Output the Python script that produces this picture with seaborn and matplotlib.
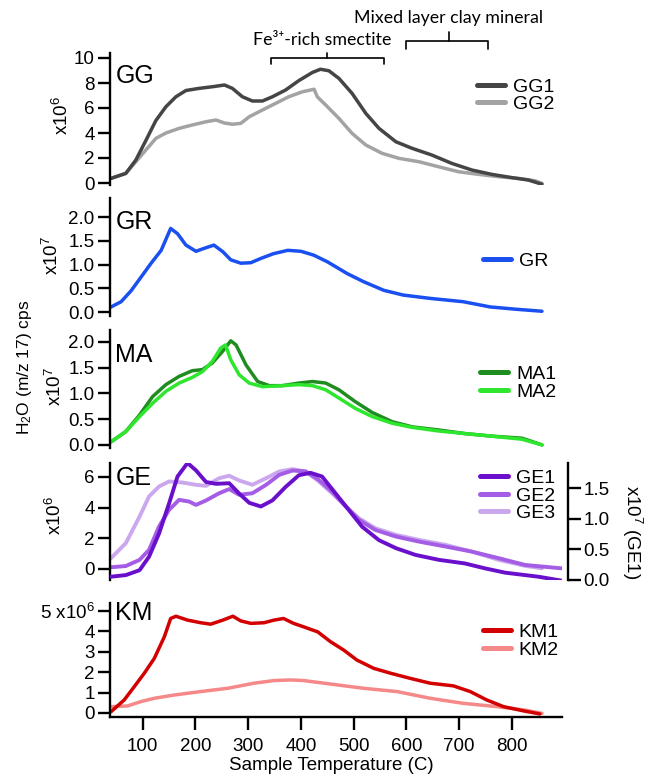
import numpy as np
import pandas as pd
import matplotlib
matplotlib.use("Agg")
import matplotlib.pyplot as plt
import matplotlib.transforms as mtransforms
from matplotlib.lines import Line2D
import seaborn as sns

# ---------------- data ----------------
gg1_t = [40, 68, 87, 106, 125, 144, 163, 182, 207, 232, 255, 270, 289, 308, 327, 346, 371, 396, 422, 437, 453, 472, 497, 523, 548, 580, 611, 648, 686, 724, 762, 800, 831, 857]
gg1_v = [0.37, 0.77, 1.84, 3.4, 5.0, 6.1, 6.9, 7.4, 7.57, 7.7, 7.84, 7.57, 6.9, 6.56, 6.56, 6.9, 7.44, 8.19, 8.85, 9.1, 8.98, 8.37, 7.17, 5.57, 4.37, 3.3, 2.77, 2.24, 1.57, 1.04, 0.69, 0.43, 0.24, -0.1]
gg2_t = [40, 68, 87, 106, 125, 144, 169, 194, 220, 239, 255, 270, 286, 302, 327, 352, 377, 403, 425, 431, 447, 472, 497, 523, 554, 586, 624, 661, 699, 737, 775, 812, 844, 857]
gg2_v = [0.37, 0.77, 1.7, 2.64, 3.57, 4.0, 4.37, 4.64, 4.9, 5.04, 4.8, 4.7, 4.77, 5.3, 5.84, 6.37, 6.9, 7.3, 7.5, 6.9, 6.24, 5.17, 3.97, 3.04, 2.37, 1.97, 1.7, 1.3, 0.9, 0.69, 0.5, 0.37, 0.18, -0.03]

gr_t = [40, 59, 78, 97, 116, 135, 153, 166, 182, 201, 216, 235, 252, 267, 286, 305, 324, 348, 375, 400, 424, 450, 488, 519, 557, 594, 645, 708, 759, 810, 857]
gr_v = [0.11, 0.22, 0.45, 0.74, 1.03, 1.3, 1.76, 1.65, 1.41, 1.28, 1.34, 1.41, 1.27, 1.1, 1.03, 1.04, 1.13, 1.23, 1.3, 1.28, 1.2, 1.06, 0.81, 0.64, 0.46, 0.36, 0.29, 0.22, 0.11, 0.06, 0.02]

ma1_t = [40, 68, 94, 119, 144, 169, 194, 213, 232, 251, 267, 277, 296, 318, 340, 365, 396, 422, 447, 472, 503, 535, 573, 611, 661, 711, 762, 819, 831, 857]
ma1_v = [0.06, 0.26, 0.58, 0.94, 1.17, 1.33, 1.44, 1.46, 1.59, 1.81, 2.02, 1.94, 1.55, 1.23, 1.15, 1.15, 1.2, 1.23, 1.2, 1.07, 0.84, 0.63, 0.45, 0.35, 0.29, 0.22, 0.17, 0.13, 0.09, 0.0]
ma2_t = [40, 68, 94, 119, 144, 169, 194, 213, 232, 248, 257, 267, 283, 302, 327, 365, 396, 422, 447, 472, 503, 535, 573, 611, 661, 711, 762, 819, 857]
ma2_v = [0.06, 0.26, 0.55, 0.81, 1.04, 1.2, 1.31, 1.42, 1.62, 1.88, 1.94, 1.65, 1.36, 1.2, 1.13, 1.15, 1.17, 1.15, 1.07, 0.91, 0.71, 0.55, 0.42, 0.34, 0.27, 0.22, 0.17, 0.11, 0.0]

ge1_t = [40, 68, 94, 112, 131, 150, 166, 185, 201, 220, 239, 264, 283, 302, 324, 346, 371, 396, 418, 440, 466, 491, 516, 548, 580, 617, 661, 711, 749, 787, 825, 850, 894]
ge1_v = [0.054, 0.08, 0.16, 0.38, 0.76, 1.25, 1.69, 1.91, 1.79, 1.6, 1.57, 1.58, 1.41, 1.26, 1.2, 1.3, 1.52, 1.71, 1.75, 1.69, 1.41, 1.14, 0.87, 0.65, 0.52, 0.41, 0.33, 0.27, 0.19, 0.12, 0.08, 0.054, -0.01]
ge2_t = [40, 68, 94, 112, 131, 150, 169, 188, 201, 220, 245, 264, 283, 308, 334, 359, 384, 409, 434, 459, 485, 510, 541, 580, 624, 674, 724, 775, 825, 894]
ge2_v = [0.11, 0.19, 0.59, 1.24, 2.76, 3.85, 4.5, 4.39, 4.17, 4.46, 4.93, 5.2, 4.83, 4.93, 5.48, 6.13, 6.41, 6.35, 5.8, 5.04, 4.07, 3.2, 2.54, 2.11, 1.78, 1.46, 1.13, 0.7, 0.26, 0.04]
ge3_t = [40, 68, 94, 112, 131, 150, 175, 201, 220, 245, 264, 283, 308, 334, 359, 384, 409, 434, 459, 485, 510, 541, 580, 624, 674, 724, 775, 825, 857]
ge3_v = [0.7, 1.68, 3.41, 4.72, 5.37, 5.7, 5.63, 5.48, 5.41, 5.91, 6.07, 5.76, 5.48, 5.91, 6.35, 6.5, 6.35, 5.7, 4.93, 4.07, 3.3, 2.65, 2.22, 1.89, 1.57, 1.13, 0.59, 0.2, 0.04]

km1_t = [40, 65, 84, 103, 122, 141, 153, 163, 185, 210, 229, 252, 271, 286, 305, 330, 349, 367, 386, 405, 432, 456, 481, 506, 538, 570, 607, 645, 689, 721, 752, 784, 822, 853]
km1_v = [0.06, 0.64, 1.29, 1.95, 2.68, 3.74, 4.64, 4.75, 4.56, 4.43, 4.36, 4.56, 4.75, 4.52, 4.4, 4.43, 4.56, 4.64, 4.4, 4.23, 3.98, 3.5, 3.09, 2.6, 2.19, 1.95, 1.7, 1.46, 1.33, 1.05, 0.64, 0.31, 0.1, -0.05]
km2_t = [40, 71, 97, 122, 160, 210, 261, 311, 349, 380, 405, 456, 519, 582, 645, 708, 771, 822, 857]
km2_v = [0.31, 0.34, 0.56, 0.72, 0.88, 1.05, 1.21, 1.46, 1.59, 1.62, 1.59, 1.42, 1.21, 1.05, 0.72, 0.47, 0.31, 0.15, -0.02]

x_ticks = [100, 200, 300, 400, 500, 600, 700, 800]

# ---------------- style ----------------
sns.set_style("ticks", {"axes.edgecolor": "black", "xtick.color": "black",
                        "ytick.color": "black", "text.color": "black",
                        "axes.labelcolor": "black"})
plt.rcParams["font.family"] = ["Liberation Sans", "DejaVu Sans"]
plt.rcParams["mathtext.fontset"] = "custom"
plt.rcParams["mathtext.rm"] = "Liberation Sans"
plt.rcParams["mathtext.it"] = "Liberation Sans:italic"
plt.rcParams["mathtext.bf"] = "Liberation Sans:bold"

W, H = 647, 778
fig = plt.figure(figsize=(W / 100, H / 100), dpi=100)

LEFT, RIGHT = 110, 562
XLIM = (38, 895)
LW = 2.5
TFS = 13.5   # tick label size
LFS = 14     # legend size


def make_ax(top, bottom):
    return fig.add_axes([LEFT / W, 1 - bottom / H, (RIGHT - LEFT) / W, (bottom - top) / H])


def style(ax, ylim, yticks, yticklabels=None, bottom_axis=False):
    ax.set_xlim(*XLIM)
    ax.set_ylim(*ylim)
    ax.set_yticks(yticks)
    if yticklabels is not None:
        ax.set_yticklabels(yticklabels)
    for s in ["top", "right"]:
        ax.spines[s].set_visible(False)
    ax.spines["left"].set_linewidth(1.7)
    ax.tick_params(axis="y", direction="out", length=9, width=1.7, labelsize=TFS, pad=2)
    if bottom_axis:
        ax.spines["bottom"].set_linewidth(1.7)
        ax.set_xticks(x_ticks)
        ax.tick_params(axis="x", direction="out", length=9, width=1.7, labelsize=TFS, pad=6)
    else:
        ax.spines["bottom"].set_visible(False)
        ax.tick_params(axis="x", bottom=False, labelbottom=False)
    ax.set_xlabel("")
    ax.set_ylabel("")


def panel_label(ax, text, y):
    ax.text(0.012, y, text, transform=ax.transAxes, fontsize=18, va="top", ha="left")


def leg(ax, handles, labels, x, y):
    ax.legend(handles, labels, loc="upper left", bbox_to_anchor=(x, y), frameon=False,
              fontsize=LFS, handlelength=1.45, handletextpad=0.4, labelspacing=0.0,
              borderpad=0, borderaxespad=0)


def line(ax, t, v, color, lw=LW):
    sns.lineplot(x=t, y=v, ax=ax, color=color, lw=lw, sort=False, estimator=None)
    return Line2D([0], [0], color=color, lw=3.6)


# ---------------- GG ----------------
c_gg1, c_gg2 = "#454545", "#a3a3a3"
ax = make_ax(53, 185)
h1 = line(ax, gg2_t, gg2_v, c_gg2)
h0 = line(ax, gg1_t, gg1_v, c_gg1)
style(ax, (-0.16, 10.4), [0, 2, 4, 6, 8, 10])
panel_label(ax, "GG", 0.92)
leg(ax, [h0, h1], ["GG1", "GG2"], 0.812, 0.81)
fig.text(62 / W, 1 - 115 / H, "x10$^{6}$", rotation=90, ha="center", va="center", fontsize=TFS)

# brackets
tr = mtransforms.blended_transform_factory(ax.transData, ax.transAxes)
ax.plot([343, 343, 557, 557], [0.917, 0.962, 0.962, 0.917], transform=tr, color="black", lw=1.2, clip_on=False)
ax.plot([450, 450], [0.962, 1.0], transform=tr, color="black", lw=1.2, clip_on=False)
ax.plot([600, 600, 755, 755], [1.028, 1.093, 1.093, 1.028], transform=tr, color="black", lw=1.2, clip_on=False)
ax.plot([680, 680], [1.093, 1.161], transform=tr, color="black", lw=1.2, clip_on=False)
ax.text(441, 1.098, "Fe³⁺-rich smectite", transform=tr, ha="center", va="center",
        fontsize=12.8, family=["Lato", "DejaVu Sans"])
ax.text(680, 1.265, "Mixed layer clay mineral", transform=tr, ha="center", va="center",
        fontsize=12.8, family=["Lato", "DejaVu Sans"])

# ---------------- GR ----------------
c_gr = "#1a4ff0"
ax = make_ax(198, 316)
h0 = line(ax, gr_t, gr_v, c_gr)
style(ax, (-0.08, 2.4), [0, 0.5, 1.0, 1.5, 2.0], ["0.0", "0.5", "1.0", "1.5", "2.0"])
panel_label(ax, "GR", 0.9)
leg(ax, [h0], ["GR"], 0.825, 0.54)
fig.text(52 / W, 1 - 255 / H, "x10$^{7}$", rotation=90, ha="center", va="center", fontsize=TFS)

# ---------------- MA ----------------
c_ma1, c_ma2 = "#1e8c1e", "#2ee62e"
ax = make_ax(330, 448)
h0 = line(ax, ma1_t, ma1_v, c_ma1)
h1 = line(ax, ma2_t, ma2_v, c_ma2)
style(ax, (-0.06, 2.23), [0, 0.5, 1.0, 1.5, 2.0], ["0.0", "0.5", "1.0", "1.5", "2.0"])
panel_label(ax, "MA", 0.89)
leg(ax, [h0, h1], ["MA1", "MA2"], 0.819, 0.70)
fig.text(55 / W, 1 - 386 / H, "x10$^{7}$", rotation=90, ha="center", va="center", fontsize=TFS)

# ---------------- GE ----------------
c_ge1, c_ge2, c_ge3 = "#6a10cc", "#a45de4", "#cba8ee"
ax = make_ax(463, 580)
h2 = line(ax, ge3_t, ge3_v, c_ge3, lw=2.8)
h1 = line(ax, ge2_t, ge2_v, c_ge2, lw=2.8)
style(ax, (-0.72, 6.9), [0, 2, 4, 6])
panel_label(ax, "GE", 0.975)
ax2 = ax.twinx()
h0 = line(ax2, ge1_t, ge1_v, c_ge1, lw=2.8)
ax2.set_xlim(*XLIM)
ax2.set_ylim(0, 1.91)
ax2.set_yticks([0, 0.5, 1.0, 1.5])
ax2.set_yticklabels(["0.0", "0.5", "1.0", "1.5"])
for s in ["top", "left", "bottom"]:
    ax2.spines[s].set_visible(False)
ax2.spines["right"].set_position(("outward", 4.5))
ax2.spines["right"].set_linewidth(1.7)
ax2.tick_params(axis="y", direction="out", length=9, width=1.7, labelsize=TFS, pad=2)
ax2.set_ylabel("")
leg(ax2, [h0, h1, h2], ["GE1", "GE2", "GE3"], 0.819, 0.945)
fig.text(55 / W, 1 - 515 / H, "x10$^{6}$", rotation=90, ha="center", va="center", fontsize=TFS)
fig.text(632 / W, 1 - 532 / H, "x10$^{7}$ (GE1)", rotation=-90, ha="center", va="center", fontsize=TFS)

# ---------------- KM ----------------
c_km1, c_km2 = "#d20000", "#f58888"
ax = make_ax(603, 717)
h1 = line(ax, km2_t, km2_v, c_km2)
h0 = line(ax, km1_t, km1_v, c_km1)
style(ax, (-0.2, 5.4), [0, 1, 2, 3, 4, 5], ["0", "1", "2", "3", "4", "5 x10$^{6}$"], bottom_axis=True)
panel_label(ax, "KM", 1.02)
leg(ax, [h0, h1], ["KM1", "KM2"], 0.825, 0.82)
ax.set_xlabel("Sample Temperature (C)", fontsize=13.5)
ax.xaxis.set_label_coords((331 - LEFT) / (RIGHT - LEFT), -(765 - 717) / (717 - 603), transform=ax.transAxes)
ax.xaxis.label.set_va("center")

fig.text(25 / W, 1 - 367 / H, "H$_{2}$O (m/z 17) cps", rotation=90, ha="center", va="center", fontsize=12.5)

fig.savefig("out.png", dpi=100)
